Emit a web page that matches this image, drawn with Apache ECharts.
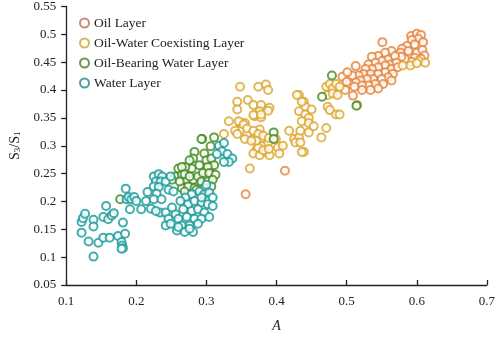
<!DOCTYPE html>
<html>
<head>
<meta charset="utf-8">
<script src="https://cdn.jsdelivr.net/npm/echarts@6/dist/echarts.min.js"></script>
<style>
    html, body { margin: 0; padding: 0; background: #fff; }
    #chart { width: 498px; height: 338px; }
</style>
</head>
<body>
<div id="chart"></div>
<script>
// legend names
var layerNames = ['Oil Layer', 'Oil-Water Coexisting Layer', 'Oil-Bearing Water Layer', 'Water Layer'];

// [A, S3/S1]
var oilLayer = [
    [0.592,0.497],[0.600,0.501],[0.606,0.499],[0.602,0.492],[0.593,0.490],[0.609,0.486],[0.597,0.482],[0.586,0.479],
    [0.579,0.474],[0.577,0.467],[0.588,0.470],[0.600,0.467],[0.608,0.472],[0.611,0.462],[0.597,0.458],[0.592,0.451],
    [0.583,0.456],[0.578,0.460],[0.606,0.456],
    [0.551,0.486],[0.564,0.470],[0.555,0.467],[0.545,0.461],[0.536,0.460],[0.559,0.455],[0.569,0.461],[0.550,0.452],
    [0.541,0.449],[0.531,0.446],[0.562,0.446],[0.571,0.449],[0.555,0.444],[0.545,0.441],[0.536,0.438],[0.527,0.438],
    [0.564,0.438],[0.573,0.441],[0.555,0.432],[0.545,0.429],[0.534,0.429],[0.524,0.429],[0.517,0.426],[0.566,0.429],
    [0.559,0.423],[0.550,0.420],[0.538,0.420],[0.529,0.420],[0.520,0.417],[0.513,0.414],[0.564,0.417],[0.552,0.411],
    [0.541,0.411],[0.531,0.408],[0.522,0.408],[0.508,0.426],[0.504,0.411],[0.545,0.403],[0.534,0.400],[0.522,0.400],
    [0.511,0.406],[0.494,0.424],[0.500,0.415],[0.515,0.373],[0.509,0.390],[0.498,0.400],[0.513,0.443],[0.501,0.432],
    [0.412,0.255],[0.356,0.213]
];

var coexistLayer = [
    [0.603,0.452],[0.612,0.449],[0.580,0.444],[0.591,0.444],[0.600,0.448],
    [0.348,0.406],[0.374,0.406],[0.385,0.410],[0.388,0.400],[0.359,0.382],[0.344,0.379],[0.344,0.365],[0.367,0.373],
    [0.378,0.373],[0.390,0.368],[0.376,0.362],[0.369,0.353],[0.378,0.351],[0.388,0.363],[0.348,0.341],[0.341,0.327],
    [0.344,0.321],[0.358,0.321],[0.355,0.312],[0.367,0.312],[0.376,0.329],[0.372,0.294],[0.367,0.286],[0.376,0.283],
    [0.385,0.289],[0.390,0.283],[0.381,0.300],[0.388,0.306],[0.399,0.312],[0.402,0.297],[0.404,0.286],[0.409,0.300],
    [0.418,0.327],[0.425,0.312],[0.432,0.315],[0.427,0.306],[0.434,0.306],[0.439,0.289],[0.362,0.259],[0.432,0.391],
    [0.439,0.379],[0.441,0.370],[0.432,0.362],[0.441,0.356],[0.446,0.350],[0.436,0.344],[0.446,0.341],[0.450,0.365],
    [0.434,0.327],[0.446,0.324],[0.453,0.335],[0.464,0.315],[0.471,0.332],[0.473,0.370],[0.476,0.364],[0.485,0.356],
    [0.471,0.406],[0.476,0.411],[0.480,0.403],[0.485,0.411],[0.490,0.406],[0.473,0.391],[0.480,0.394],[0.487,0.391],
    [0.490,0.356],[0.367,0.355],[0.378,0.356],[0.355,0.341],[0.436,0.289],[0.429,0.391],[0.436,0.379],
    [0.332,0.344],[0.346,0.344],[0.353,0.338],[0.358,0.331],[0.367,0.327],[0.374,0.321],[0.381,0.318],[0.389,0.314],
    [0.374,0.297],[0.381,0.292],[0.389,0.294],[0.371,0.309],[0.364,0.309],[0.325,0.321],[0.306,0.262],[0.300,0.242]
];

var oilBearingLayer = [
    [0.294,0.312],[0.311,0.315],[0.306,0.299],[0.283,0.289],[0.281,0.277],[0.297,0.286],[0.300,0.274],[0.307,0.277],
    [0.311,0.265],[0.302,0.262],[0.290,0.265],[0.279,0.259],[0.270,0.262],[0.260,0.259],[0.256,0.245],[0.265,0.248],
    [0.272,0.239],[0.281,0.239],[0.288,0.245],[0.295,0.251],[0.304,0.251],[0.313,0.248],[0.293,0.236],[0.302,0.236],
    [0.309,0.239],[0.297,0.224],[0.307,0.227],[0.251,0.239],[0.265,0.224],[0.274,0.227],[0.283,0.224],[0.293,0.312],
    [0.276,0.274],[0.265,0.262],[0.262,0.236],[0.269,0.249],[0.276,0.245],[0.286,0.221],[0.269,0.218],[0.177,0.204],
    [0.188,0.205],[0.479,0.426],[0.465,0.388],[0.514,0.372],[0.396,0.324],[0.396,0.312]
];

var waterLayer = [
    [0.122,0.163],[0.124,0.170],[0.127,0.178],[0.122,0.144],[0.132,0.128],[0.139,0.167],[0.139,0.155],[0.139,0.101],
    [0.146,0.126],[0.153,0.135],[0.153,0.172],[0.157,0.192],[0.160,0.168],[0.162,0.135],[0.165,0.175],[0.168,0.179],
    [0.174,0.138],[0.179,0.127],[0.180,0.121],[0.181,0.116],[0.179,0.115],[0.181,0.162],[0.184,0.142],[0.185,0.223],
    [0.186,0.204],[0.189,0.208],[0.193,0.204],[0.197,0.208],[0.191,0.186],[0.200,0.201],[0.207,0.186],[0.214,0.201],
    [0.216,0.217],[0.221,0.187],
    [0.225,0.245],[0.232,0.249],[0.237,0.245],[0.228,0.236],[0.235,0.236],[0.225,0.227],[0.232,0.226],[0.242,0.236],
    [0.249,0.245],[0.246,0.221],[0.253,0.218],[0.229,0.214],[0.225,0.204],[0.234,0.180],[0.228,0.183],[0.242,0.180],
    [0.246,0.169],[0.242,0.157],[0.249,0.160],[0.236,0.204],
    [0.290,0.218],[0.297,0.213],[0.304,0.216],[0.309,0.207],[0.279,0.213],[0.270,0.207],[0.263,0.201],[0.274,0.195],
    [0.283,0.201],[0.293,0.198],[0.302,0.195],[0.309,0.192],[0.267,0.186],[0.279,0.183],[0.288,0.186],[0.297,0.180],
    [0.256,0.177],[0.260,0.169],[0.272,0.172],[0.283,0.169],[0.293,0.169],[0.304,0.172],[0.265,0.157],[0.276,0.157],
    [0.288,0.160],[0.269,0.145],[0.281,0.145],[0.258,0.148],[0.251,0.189],[0.260,0.154],[0.276,0.151],
    [0.318,0.300],[0.325,0.305],[0.322,0.290],[0.330,0.285],[0.337,0.277],[0.332,0.271],[0.325,0.271],[0.315,0.285],
    [0.300,0.230],[0.293,0.207]
];

var pointColors = ['#e6823a', '#dba52c', '#3f8a1c', '#179a98'];
var legendColors = ['#b3714f', '#d0a030', '#4a7a1f', '#178a8a'];

var chart = echarts.init(document.getElementById('chart'));

var font = 'Liberation Serif';

function makeSeries(name, data, color) {
    return {
        name: name,
        type: 'scatter',
        symbol: 'emptyCircle',
        symbolSize: 8,
        itemStyle: { color: color, borderColor: color, borderWidth: 1.2 },
        data: data
    };
}

var option = {
    animation: false,
    backgroundColor: '#fff',
    grid: { left: 56.5, right: 10, top: 6, bottom: 47 },
    legend: {
        orient: 'vertical',
        left: 79,
        top: 16,
        padding: 0,
        itemWidth: 9,
        itemHeight: 9,
        itemGap: 6,
        textStyle: { fontFamily: font, fontSize: 13.5, color: '#222', lineHeight: 14 },
        data: layerNames.map(function (n, i) {
            return {
                name: n,
                icon: 'emptyCircle',
                itemStyle: { color: legendColors[i], borderColor: legendColors[i], borderWidth: 1.3 }
            };
        })
    },
    xAxis: {
        type: 'value',
        min: 0.1,
        max: 0.7,
        interval: 0.1,
        name: 'A',
        nameLocation: 'middle',
        nameGap: 34,
        nameTextStyle: { fontFamily: font, fontSize: 14, fontStyle: 'italic', color: '#222' },
        axisLine: { show: true, lineStyle: { color: '#222', width: 1.3 } },
        axisTick: { show: true, inside: true, length: 5, lineStyle: { color: '#222', width: 1.3 } },
        axisLabel: { fontFamily: font, fontSize: 13, color: '#222', margin: 10, formatter: function (v) { return +v.toFixed(1) + ''; } },
        splitLine: { show: false }
    },
    yAxis: {
        type: 'value',
        min: 0.05,
        max: 0.55,
        interval: 0.05,
        name: '{s|S}{sub|3}{s|/S}{sub|1}',
        nameLocation: 'middle',
        nameGap: 40,
        nameRotate: 90,
        nameTextStyle: {
            rich: {
                s: { fontFamily: font, fontSize: 14, color: '#222' },
                sub: { fontFamily: font, fontSize: 9, color: '#222', verticalAlign: 'bottom', padding: [6, 0, 0, 0] }
            }
        },
        axisLine: { show: true, lineStyle: { color: '#222', width: 1.3 } },
        axisTick: { show: true, inside: false, length: 5, lineStyle: { color: '#222', width: 1.3 } },
        axisLabel: { fontFamily: font, fontSize: 13, color: '#222', margin: 10, formatter: function (v) { return +v.toFixed(2) + ''; } },
        splitLine: { show: false }
    },
    series: [
        makeSeries(layerNames[0], oilLayer, pointColors[0]),
        makeSeries(layerNames[1], coexistLayer, pointColors[1]),
        makeSeries(layerNames[2], oilBearingLayer, pointColors[2]),
        makeSeries(layerNames[3], waterLayer, pointColors[3])
    ]
};

chart.setOption(option);
</script>
</body>
</html>
